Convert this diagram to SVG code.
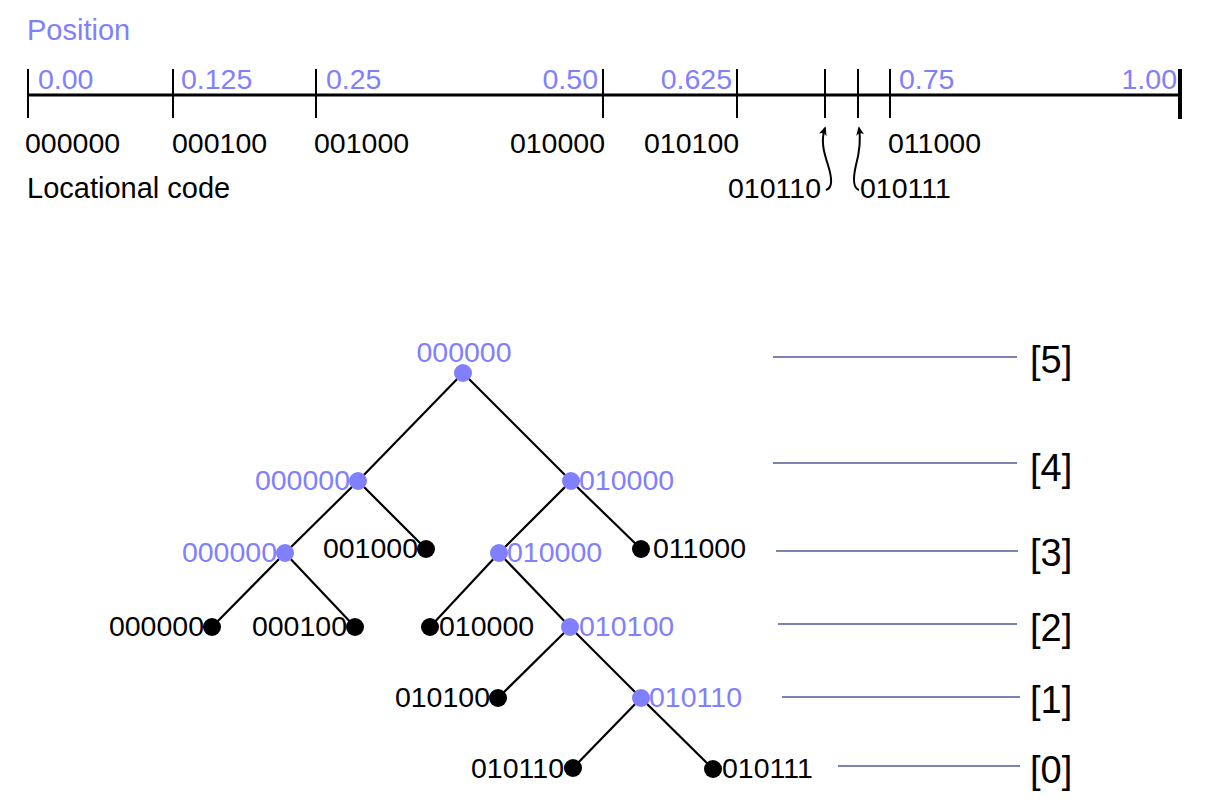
<svg xmlns="http://www.w3.org/2000/svg" width="1211" height="812" viewBox="0 0 1211 812">
<style>
text{font-family:"Liberation Sans",Arial,sans-serif}
.bl{fill:#8080ff}
.bk{fill:#000}
.ax{font-size:28.5px}
.cd{font-size:28.5px}
.tl{font-size:28.5px}
.lv{font-size:38px}
.tick{stroke:#000;stroke-width:2}
.edge{stroke:#000;stroke-width:2.2;fill:none}
.lvl{stroke:#50589a;stroke-width:1.6}
.arr{stroke:#000;stroke-width:2;fill:none}
.nb{fill:#8080ff}
.nk{fill:#000}
</style>
<defs>
<marker id="ah" viewBox="0 0 10 10" refX="8" refY="5" markerWidth="9" markerHeight="9" orient="auto-start-reverse" markerUnits="userSpaceOnUse">
<path d="M0,0.5 Q4,5 0,9.5 L10,5 Z" fill="#000"/>
</marker>
</defs>
<rect width="1211" height="812" fill="#fff"/>

<g id="axis">
<text class="bl" x="27" y="40" style="font-size:29px">Position</text>
<line x1="27" y1="95" x2="1181" y2="95" stroke="#000" stroke-width="3"/>
<line class="tick" x1="28" y1="69" x2="28" y2="118"/>
<line class="tick" x1="173" y1="69" x2="173" y2="118"/>
<line class="tick" x1="316" y1="69" x2="316" y2="118"/>
<line class="tick" x1="603" y1="69" x2="603" y2="118"/>
<line class="tick" x1="737" y1="69" x2="737" y2="118"/>
<line class="tick" x1="825" y1="69" x2="825" y2="118"/>
<line class="tick" x1="858" y1="69" x2="858" y2="118"/>
<line class="tick" x1="890" y1="69" x2="890" y2="118"/>
<line x1="1180" y1="69" x2="1180" y2="119" stroke="#000" stroke-width="4"/>
<text class="bl ax" x="38" y="89">0.00</text>
<text class="bl ax" x="181" y="89">0.125</text>
<text class="bl ax" x="326" y="89">0.25</text>
<text class="bl ax" x="598" y="89" text-anchor="end">0.50</text>
<text class="bl ax" x="732" y="89" text-anchor="end">0.625</text>
<text class="bl ax" x="899" y="89">0.75</text>
<text class="bl ax" x="1177" y="89" text-anchor="end">1.00</text>
<text class="bk cd" x="25" y="153">000000</text>
<text class="bk cd" x="172" y="153">000100</text>
<text class="bk cd" x="314" y="153">001000</text>
<text class="bk cd" x="605" y="153" text-anchor="end">010000</text>
<text class="bk cd" x="644" y="153">010100</text>
<text class="bk cd" x="888" y="153">011000</text>
<text class="bk cd" x="27" y="198" style="font-size:29px">Locational code</text>
<text class="bk cd" x="821" y="198" text-anchor="end">010110</text>
<text class="bk cd" x="860" y="198">010111</text>
<path class="arr" d="M826,190 C833,188 832,178 828,165 C823,150 821,140 825,128" marker-end="url(#ah)"/>
<path class="arr" d="M859,190 C853,188 853,178 856,165 C860,150 861,140 859,128" marker-end="url(#ah)"/>
</g>

<g id="connectors">
<line class="edge" x1="463" y1="373" x2="358" y2="481"/>
<line class="edge" x1="463" y1="373" x2="571" y2="481"/>
<line class="edge" x1="358" y1="481" x2="285" y2="553"/>
<line class="edge" x1="358" y1="481" x2="426" y2="549"/>
<line class="edge" x1="571" y1="481" x2="499" y2="553"/>
<line class="edge" x1="571" y1="481" x2="641" y2="549"/>
<line class="edge" x1="285" y1="553" x2="212" y2="627"/>
<line class="edge" x1="285" y1="553" x2="355" y2="627"/>
<line class="edge" x1="499" y1="553" x2="430" y2="627"/>
<line class="edge" x1="499" y1="553" x2="570" y2="627"/>
<line class="edge" x1="570" y1="627" x2="498" y2="698"/>
<line class="edge" x1="570" y1="627" x2="641" y2="698"/>
<line class="edge" x1="641" y1="698" x2="573" y2="768"/>
<line class="edge" x1="641" y1="698" x2="713" y2="769"/>
</g>

<g id="n-root"><circle class="nb" cx="463" cy="373" r="9"/><text class="bl tl" x="464" y="362" text-anchor="middle">000000</text></g>
<g id="n-4a"><circle class="nb" cx="358" cy="481" r="9"/><text class="bl tl" x="350" y="490" text-anchor="end">000000</text></g>
<g id="n-4b"><circle class="nb" cx="571" cy="481" r="9"/><text class="bl tl" x="579" y="490">010000</text></g>
<g id="n-3a"><circle class="nb" cx="285" cy="553" r="9"/><text class="bl tl" x="277" y="562" text-anchor="end">000000</text></g>
<g id="n-3b"><circle class="nk" cx="426" cy="549" r="9"/><text class="bk tl" x="418" y="558" text-anchor="end">001000</text></g>
<g id="n-3c"><circle class="nb" cx="499" cy="553" r="9"/><text class="bl tl" x="507" y="562">010000</text></g>
<g id="n-3d"><circle class="nk" cx="641" cy="549" r="9"/><text class="bk tl" x="653" y="558">011000</text></g>
<g id="n-2a"><circle class="nk" cx="212" cy="627" r="9"/><text class="bk tl" x="204" y="636" text-anchor="end">000000</text></g>
<g id="n-2b"><circle class="nk" cx="355" cy="627" r="9"/><text class="bk tl" x="347" y="636" text-anchor="end">000100</text></g>
<g id="n-2c"><circle class="nk" cx="430" cy="627" r="9"/><text class="bk tl" x="439" y="636">010000</text></g>
<g id="n-2d"><circle class="nb" cx="570" cy="627" r="9"/><text class="bl tl" x="579" y="636">010100</text></g>
<g id="n-1a"><circle class="nk" cx="498" cy="698" r="9"/><text class="bk tl" x="490" y="707" text-anchor="end">010100</text></g>
<g id="n-1b"><circle class="nb" cx="641" cy="698" r="9"/><text class="bl tl" x="649" y="707">010110</text></g>
<g id="n-0a"><circle class="nk" cx="573" cy="768" r="9"/><text class="bk tl" x="564" y="778" text-anchor="end">010110</text></g>
<g id="n-0b"><circle class="nk" cx="713" cy="769" r="9"/><text class="bk tl" x="722" y="778">010111</text></g>

<g id="levels">
<line class="lvl" x1="773" y1="357" x2="1017" y2="357"/>
<text class="bk lv" x="1030" y="373">[5]</text>
<line class="lvl" x1="773" y1="463" x2="1017" y2="463"/>
<text class="bk lv" x="1030" y="481">[4]</text>
<line class="lvl" x1="776" y1="551" x2="1018" y2="551"/>
<text class="bk lv" x="1030" y="566">[3]</text>
<line class="lvl" x1="778" y1="624" x2="1017" y2="624"/>
<text class="bk lv" x="1030" y="641">[2]</text>
<line class="lvl" x1="782" y1="697" x2="1020" y2="697"/>
<text class="bk lv" x="1030" y="713">[1]</text>
<line class="lvl" x1="838" y1="766" x2="1020" y2="766"/>
<text class="bk lv" x="1030" y="783">[0]</text>
</g>
</svg>
